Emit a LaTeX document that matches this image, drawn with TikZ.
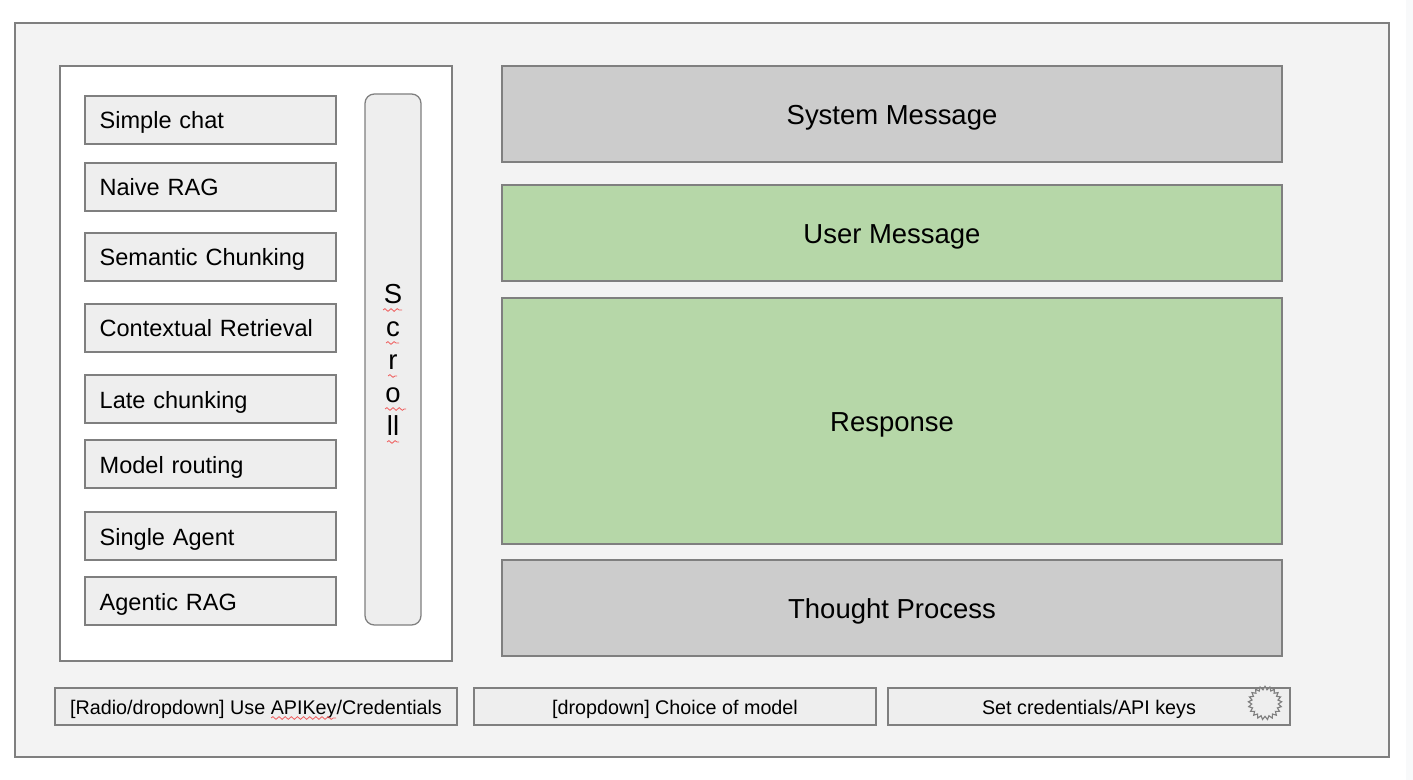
\documentclass[tikz,border=0pt]{standalone}
\usepackage{fontspec}
\setmainfont{Liberation Sans}
\usetikzlibrary{shapes.geometric,decorations.pathmorphing}
\definecolor{edgegrey}{HTML}{7F7F7F}
\definecolor{panelfill}{HTML}{F3F3F3}
\definecolor{itemfill}{HTML}{EEEEEE}
\definecolor{greyfill}{HTML}{CCCCCC}
\definecolor{greenfill}{HTML}{B6D7A8}
\definecolor{stripfill}{HTML}{F8F9FA}
\definecolor{squigred}{HTML}{EE5C5C}
\newcommand{\uibox}[7]{%
  \node[#1,anchor=north west,minimum width={(#5-#3)*0.75pt},minimum height={(#6-#4)*0.75pt}] (#2) at (#3,-#4) {#7};}
\newcommand{\listbox}[4]{%
  \node[itembox,anchor=north west,minimum width=188.25pt,minimum height={(#4-#3)*0.75pt},text width=166.25pt,inner xsep=11pt,align=left] (#1) at (85,-#3) {#2};}
\tikzset{
  base/.style={draw=edgegrey,line width=0.95pt,inner sep=0pt,outer sep=0pt},
  panel/.style={base,fill=panelfill},
  whitebox/.style={base,fill=white},
  itembox/.style={base,fill=itemfill,text height=13.5pt,text depth=0pt,font=\fontsize{17.65pt}{21pt}\selectfont},
  greybox/.style={base,fill=greyfill,text height=16pt,text depth=0pt,font=\fontsize{20.6pt}{25pt}\selectfont},
  greenbox/.style={base,fill=greenfill,text height=16pt,text depth=0pt,font=\fontsize{20.6pt}{25pt}\selectfont},
  barbox/.style={base,fill=itemfill,text height=11.5pt,text depth=0pt,font=\fontsize{14.8pt}{18pt}\selectfont},
  scrollbox/.style={base,fill=itemfill,rounded corners=7pt,align=center,font=\fontsize{20.6pt}{24.75pt}\selectfont},
  squig/.style={draw=squigred,line width=0.6pt,decorate,decoration={snake,segment length=4.6pt,amplitude=1pt}},
  gear/.style={star,star points=21,star point ratio=1.25,draw=edgegrey,line width=0.85pt,fill=itemfill,inner sep=0pt,outer sep=0pt,minimum size=25pt}
}
\begin{document}
\begin{tikzpicture}[x=0.75pt,y=0.75pt]
\useasboundingbox (0,0) rectangle (1413,-780);
\fill[stripfill] (1406,0) rectangle (1413,-780);
\uibox{panel}{outer}{15}{23}{1389}{757}{}
\uibox{whitebox}{sidebar}{60}{66}{452}{661}{}
\listbox{simple}{Simple chat}{96}{144}
\listbox{naive}{Naive RAG}{163}{211}
\listbox{semantic}{Semantic Chunking}{233}{281}
\listbox{contextual}{Contextual Retrieval}{304}{352}
\listbox{late}{Late chunking}{375}{423}
\listbox{routing}{Model routing}{440}{488}
\listbox{single}{Single Agent}{512}{560}
\listbox{agentic}{Agentic RAG}{577}{625}
\uibox{scrollbox}{scroll}{365}{94}{421}{625}{S\\c\\r\\o\\ll}
\uibox{greybox}{system}{502}{66}{1282}{162}{System Message}
\uibox{greenbox}{user}{502}{185}{1282}{281}{User Message}
\uibox{greenbox}{response}{502}{298}{1282}{544}{Response}
\uibox{greybox}{thought}{502}{560}{1282}{656}{Thought Process}
\uibox{barbox}{radio}{55}{688}{457}{725}{[Radio/dropdown] Use APIKey/Credentials}
\uibox{barbox}{model}{474}{688}{876}{725}{[dropdown] Choice of model}
\uibox{barbox}{creds}{888}{688}{1290}{725}{Set credentials/API keys}
\node[gear] (cog) at (1265,-703) {};
\draw[squig] (383,-310) -- (402,-310);
\draw[squig] (386,-343) -- (399,-343);
\draw[squig] (388,-376) -- (397,-376);
\draw[squig] (385,-409) -- (406,-409);
\draw[squig] (387,-442) -- (399,-442);
\draw[squig] (271,-718) -- (336,-718);
\end{tikzpicture}
\end{document}
